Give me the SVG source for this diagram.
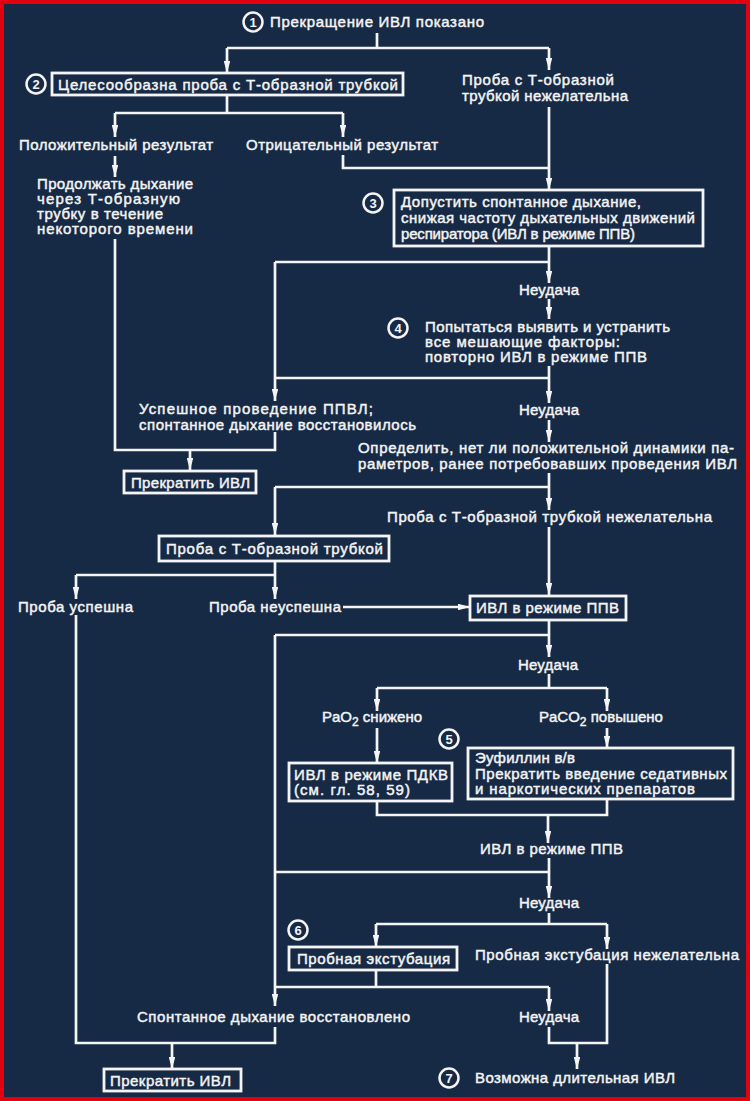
<svg xmlns="http://www.w3.org/2000/svg" width="750" height="1101" viewBox="0 0 750 1101">
<style>
.t{font-family:"Liberation Sans","DejaVu Sans",sans-serif;font-size:15px;fill:#f4f4f4;stroke:#f4f4f4;stroke-width:0.45}
.box{fill:none;stroke:#f4f4f4;stroke-width:2.8}
.circ{fill:none;stroke:#f4f4f4;stroke-width:2.5}
.num{font-family:"Liberation Sans","DejaVu Sans",sans-serif;font-size:13px;font-weight:bold;fill:#f4f4f4;text-anchor:middle}
.ln{fill:none;stroke:#f4f4f4;stroke-width:2.7}
.ar{fill:none;stroke:#f4f4f4;stroke-width:2.7;marker-end:url(#arr)}
</style>
<defs>
<marker id="arr" viewBox="0 -3.3 12 6.6" refX="12" refY="0" markerWidth="12" markerHeight="6.6" markerUnits="userSpaceOnUse" orient="auto">
<path d="M0,-3.3 L12,0 L0,3.3 z" fill="#f4f4f4"/>
</marker>
</defs>
<rect x="0" y="0" width="750" height="1101" fill="#172a45"/>
<rect x="2" y="2" width="746" height="1097" fill="none" stroke="#e3000f" stroke-width="4"/>

<g id="connectors">
<path class="ln" d="M377,33 V48 M227,48 H549"/>
<path class="ar" d="M549,48 V70"/>
<path class="ar" d="M227,48 V73"/>
<path class="ln" d="M227,95 V113 M115,113 H343"/>
<path class="ar" d="M115,113 V137"/>
<path class="ar" d="M343,113 V137"/>
<path class="ar" d="M549,107 V190"/>
<path class="ln" d="M343,155 V168 H549"/>
<path class="ar" d="M115,156 V177"/>
<path class="ln" d="M115,239 V450 H275 V432"/>
<path class="ar" d="M190,450 V470"/>
<path class="ln" d="M549,246 V262 M275,262 H549 M275,262 V378"/>
<path class="ar" d="M549,262 V283"/>
<path class="ar" d="M549,299 V319"/>
<path class="ln" d="M549,366 V378 M275,378 H549"/>
<path class="ar" d="M275,378 V401"/>
<path class="ar" d="M549,378 V403"/>
<path class="ar" d="M549,420 V442"/>
<path class="ln" d="M549,473 V487 M275,487 H549"/>
<path class="ar" d="M275,487 V535"/>
<path class="ar" d="M549,487 V510"/>
<path class="ar" d="M549,527 V595"/>
<path class="ln" d="M275,561 V575 M76,575 H275"/>
<path class="ar" d="M76,575 V599"/>
<path class="ar" d="M275,575 V599"/>
<path class="ar" d="M343,607 H470"/>
<path class="ln" d="M549,620 V635 M275,635 H549"/>
<path class="ar" d="M275,635 V1006"/>
<path class="ar" d="M549,635 V657"/>
<path class="ln" d="M549,674 V688 M377,688 H607"/>
<path class="ar" d="M377,688 V711"/>
<path class="ar" d="M607,688 V711"/>
<path class="ar" d="M377,728 V763"/>
<path class="ar" d="M607,728 V748"/>
<path class="ln" d="M377,801 V815 H607 V799"/>
<path class="ar" d="M548,815 V843"/>
<path class="ln" d="M549,858 V872 M275,872 H549"/>
<path class="ar" d="M549,872 V898"/>
<path class="ln" d="M549,913 V924 M376,924 H607"/>
<path class="ar" d="M376,924 V947"/>
<path class="ar" d="M607,924 V949"/>
<path class="ln" d="M376,970 V987 M275,987 H549"/>
<path class="ar" d="M549,987 V1011"/>
<path class="ln" d="M607,964 V1043 H549 V1027"/>
<path class="ar" d="M577,1043 V1069"/>
<path class="ln" d="M76,615 V1043 H275 V1027"/>
<path class="ar" d="M172,1043 V1069"/>
</g>

<g id="n1">
<circle class="circ" cx="253" cy="22" r="9.5"/>
<text class="num" x="253" y="26.5">1</text>
<text class="t" x="270" y="27" textLength="214" lengthAdjust="spacing">Прекращение ИВЛ показано</text>
</g>
<g id="n2">
<circle class="circ" cx="36" cy="84" r="9.5"/>
<text class="num" x="36" y="88.5">2</text>
<rect class="box" x="52" y="73" width="351" height="22"/>
<text class="t" x="58" y="89.5" textLength="340" lengthAdjust="spacing">Целесообразна проба с Т-образной трубкой</text>
</g>
<g id="n2b">
<text class="t" x="462" y="85" textLength="152" lengthAdjust="spacing">Проба с Т-образной</text>
<text class="t" x="462" y="101" textLength="166" lengthAdjust="spacing">трубкой нежелательна</text>
</g>
<g id="pos">
<text class="t" x="19" y="150" textLength="194" lengthAdjust="spacing">Положительный результат</text>
</g>
<g id="neg">
<text class="t" x="246" y="150" textLength="192" lengthAdjust="spacing">Отрицательный результат</text>
</g>
<g id="cont">
<text class="t" x="37" y="189" textLength="156" lengthAdjust="spacing">Продолжать дыхание</text>
<text class="t" x="37" y="204" textLength="143" lengthAdjust="spacing">через Т-образную</text>
<text class="t" x="37" y="219" textLength="126" lengthAdjust="spacing">трубку в течение</text>
<text class="t" x="37" y="234" textLength="156" lengthAdjust="spacing">некоторого времени</text>
</g>
<g id="n3">
<circle class="circ" cx="373" cy="203" r="9.5"/>
<text class="num" x="373" y="207.5">3</text>
<rect class="box" x="394" y="190" width="309" height="56"/>
<text class="t" x="401" y="207" textLength="240" lengthAdjust="spacing">Допустить спонтанное дыхание,</text>
<text class="t" x="401" y="223" textLength="294" lengthAdjust="spacing">снижая частоту дыхательных движений</text>
<text class="t" x="401" y="239" textLength="234" lengthAdjust="spacing">респиратора (ИВЛ в режиме ППВ)</text>
</g>
<g id="fail1">
<text class="t" x="519" y="295" textLength="60" lengthAdjust="spacing">Неудача</text>
</g>
<g id="n4">
<circle class="circ" cx="398" cy="328" r="9.5"/>
<text class="num" x="398" y="332.5">4</text>
<text class="t" x="425" y="332" textLength="245" lengthAdjust="spacing">Попытаться выявить и устранить</text>
<text class="t" x="425" y="347" textLength="195" lengthAdjust="spacing">все мешающие факторы:</text>
<text class="t" x="425" y="362" textLength="222" lengthAdjust="spacing">повторно ИВЛ в режиме ППВ</text>
</g>
<g id="success1">
<text class="t" x="139" y="414" textLength="234" lengthAdjust="spacing">Успешное проведение ППВЛ;</text>
<text class="t" x="139" y="430" textLength="277" lengthAdjust="spacing">спонтанное дыхание восстановилось</text>
</g>
<g id="fail2">
<text class="t" x="519" y="415" textLength="60" lengthAdjust="spacing">Неудача</text>
</g>
<g id="stop1">
<rect class="box" x="124" y="471" width="132" height="22"/>
<text class="t" x="131" y="487.5" textLength="119" lengthAdjust="spacing">Прекратить ИВЛ</text>
</g>
<g id="determine">
<text class="t" x="358" y="453" textLength="376" lengthAdjust="spacing">Определить, нет ли положительной динамики па-</text>
<text class="t" x="358" y="469" textLength="379" lengthAdjust="spacing">раметров, ранее потребовавших проведения ИВЛ</text>
</g>
<g id="notube">
<text class="t" x="387" y="522" textLength="325" lengthAdjust="spacing">Проба с Т-образной трубкой нежелательна</text>
</g>
<g id="tube">
<rect class="box" x="159" y="536" width="230" height="25"/>
<text class="t" x="166" y="553.5" textLength="217" lengthAdjust="spacing">Проба с Т-образной трубкой</text>
</g>
<g id="ok">
<text class="t" x="18" y="612" textLength="115" lengthAdjust="spacing">Проба успешна</text>
</g>
<g id="notok">
<text class="t" x="209" y="612" textLength="132" lengthAdjust="spacing">Проба неуспешна</text>
</g>
<g id="ppv1">
<rect class="box" x="470" y="596" width="156" height="24"/>
<text class="t" x="476" y="613" textLength="143" lengthAdjust="spacing">ИВЛ в режиме ППВ</text>
</g>
<g id="fail3">
<text class="t" x="518" y="670" textLength="60" lengthAdjust="spacing">Неудача</text>
</g>
<g id="pao2">
<text class="t" x="322" y="722">PaO<tspan dy="4" font-size="12">2</tspan><tspan dy="-4"> снижено</tspan></text>
</g>
<g id="paco2">
<text class="t" x="539" y="722">PaCO<tspan dy="4" font-size="12">2</tspan><tspan dy="-4"> повышено</tspan></text>
</g>
<g id="pdkv">
<rect class="box" x="289" y="763" width="163" height="38"/>
<text class="t" x="294" y="780" textLength="154" lengthAdjust="spacing">ИВЛ в режиме ПДКВ</text>
<text class="t" x="294" y="795" textLength="116" lengthAdjust="spacing">(см. гл. 58, 59)</text>
</g>
<g id="n5">
<circle class="circ" cx="449" cy="739" r="9.5"/>
<text class="num" x="449" y="743.5">5</text>
<rect class="box" x="468" y="748" width="265" height="51"/>
<text class="t" x="475" y="763" textLength="100" lengthAdjust="spacing">Эуфиллин в/в</text>
<text class="t" x="475" y="779" textLength="252" lengthAdjust="spacing">Прекратить введение седативных</text>
<text class="t" x="475" y="794" textLength="220" lengthAdjust="spacing">и наркотических  препаратов</text>
</g>
<g id="ppv2">
<text class="t" x="480" y="854" textLength="143" lengthAdjust="spacing">ИВЛ в режиме ППВ</text>
</g>
<g id="fail4">
<text class="t" x="519" y="908" textLength="60" lengthAdjust="spacing">Неудача</text>
</g>
<g id="n6">
<circle class="circ" cx="298" cy="930" r="9.5"/>
<text class="num" x="298" y="934.5">6</text>
<rect class="box" x="289" y="947" width="168" height="23"/>
<text class="t" x="297" y="963.5" textLength="153" lengthAdjust="spacing">Пробная экстубация</text>
</g>
<g id="noext">
<text class="t" x="475" y="960" textLength="264" lengthAdjust="spacing">Пробная экстубация нежелательна</text>
</g>
<g id="spont">
<text class="t" x="137" y="1022" textLength="273" lengthAdjust="spacing">Спонтанное дыхание восстановлено</text>
</g>
<g id="fail5">
<text class="t" x="519" y="1022" textLength="60" lengthAdjust="spacing">Неудача</text>
</g>
<g id="stop2">
<rect class="box" x="104" y="1069" width="137" height="22"/>
<text class="t" x="110" y="1085.5" textLength="121" lengthAdjust="spacing">Прекратить ИВЛ</text>
</g>
<g id="n7">
<circle class="circ" cx="449" cy="1078" r="9.5"/>
<text class="num" x="449" y="1082.5">7</text>
<text class="t" x="475" y="1083" textLength="200" lengthAdjust="spacing">Возможна длительная ИВЛ</text>
</g>
</svg>
